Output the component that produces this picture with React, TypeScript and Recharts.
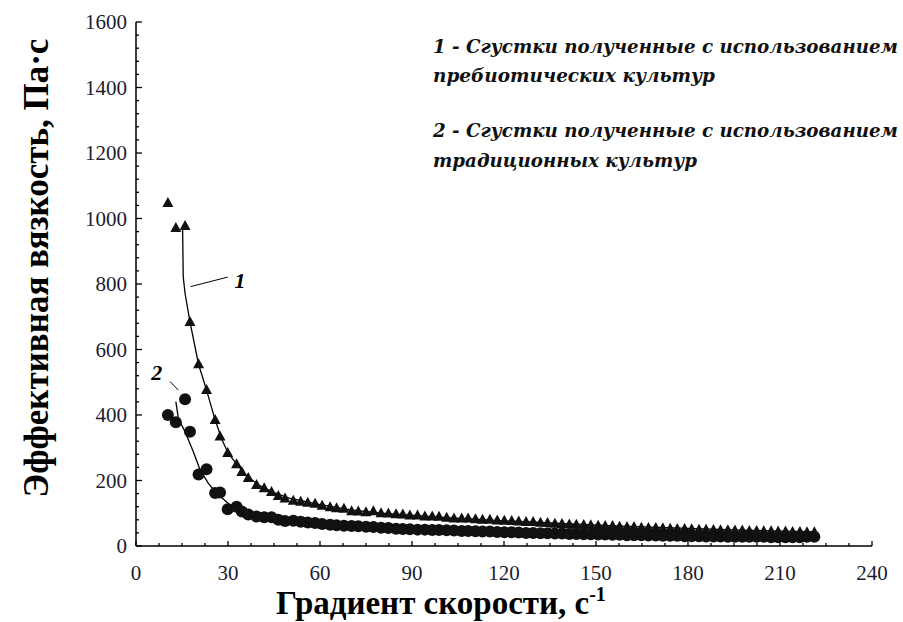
import React from "react";
import {
    ScatterChart,
    Scatter,
    XAxis,
    YAxis,
    ReferenceLine,
} from "recharts";

// shear rate, 1/s (same for both samples)
const shearRate = [
    10.4, 13, 16, 17.6, 20.4, 23, 25.8, 27.4, 29.9, 32.8,
    34.5, 36.6, 39.3, 41.8, 44.2, 46.4, 48.6, 51.3, 53.7, 56,
    58.4, 60.7, 63.3, 65.4, 67.8, 70.3, 72.5, 75, 77.4, 79.9,
    82.3, 84.8, 87, 89.3, 91.8, 94.2, 96.6, 98.8, 101.3, 103.7,
    106.2, 108.3, 110.7, 113, 115.4, 117.8, 120.1, 122.5, 124.8, 127.2,
    129.5, 131.9, 134.2, 136.6, 138.9, 141.3, 143.6, 146, 148.3, 150.7,
    153, 155.4, 157.7, 160.1, 162.4, 164.8, 167.1, 169.5, 171.8, 174.2,
    176.5, 178.9, 181.2, 183.6, 185.9, 188.3, 190.6, 193, 195.3, 197.7,
    200, 202.4, 204.7, 207.1, 209.4, 211.8, 214.1, 216.5, 218.8, 221.2,
];

// 1 - пребиотические культуры (треугольники)
const viscosityPrebiotic = [
    1047, 971, 977, 684, 555, 476, 385, 334, 284, 250,
    226, 208, 186, 176, 165, 153, 145, 138, 135, 132,
    129, 123, 118, 115, 114, 106, 105, 103, 106, 100,
    99, 97, 96, 93, 93, 90, 90, 89, 86, 84,
    84, 84, 82, 80, 80, 78, 77, 76, 75, 73,
    73, 71, 70, 68, 67, 66, 65, 64, 63, 62,
    61, 61, 59, 58, 58, 56, 55, 55, 54, 53,
    52, 52, 51, 50, 50, 49, 48, 48, 47, 47,
    46, 46, 45, 45, 44, 44, 43, 43, 42, 42,
];

// 2 - традиционные культуры (кружки)
const viscosityTraditional = [
    400, 378, 448, 349, 218, 234, 162, 163, 112, 120,
    105, 96, 90, 88, 88, 80, 76, 77, 74, 72,
    70, 67, 65, 63, 62, 61, 60, 59, 58, 56,
    55, 53, 52, 51, 50, 50, 49, 49, 48, 47,
    46, 46, 45, 44, 44, 43, 42, 42, 41, 40,
    40, 39, 39, 38, 38, 37, 37, 36, 36, 35,
    35, 34, 34, 33, 33, 33, 32, 32, 31, 31,
    31, 30, 30, 30, 29, 29, 29, 28, 28, 28,
    28, 28, 28, 27, 27, 27, 27, 27, 28, 28,
];

// approximating curves
const fit1X = [15.2, 15.4, 16, 17.6, 20.4, 23, 25.8, 28, 30, 33, 36, 40, 45, 50, 60, 70, 80, 100, 120, 140, 160, 180, 200, 222];
const fit1Y = [970, 822, 771, 684, 555, 476, 385, 325, 285, 248, 215, 186, 163, 146, 126, 110, 100, 87, 77, 68, 60, 54, 48, 43];
const fit2X = [13, 13.8, 16, 18.7, 20.9, 23.6, 26.3, 30.1, 34, 40, 50, 60, 80, 100, 120, 150, 180, 222];
const fit2Y = [441, 390, 349, 288, 232, 191, 161, 130, 105, 90, 76, 67, 56, 49, 43, 36, 31, 27];

// curve labels and their leader lines
const curveLabels = ["1", "2"];
const curveLabelX = [33.9, 6.8];
const curveLabelY = [812, 531];
const leaderFrom = [{ x: 17.8, y: 792 }, { x: 11.1, y: 502 }];
const leaderTo = [{ x: 29.9, y: 821 }, { x: 13.8, y: 476 }];

const xMajorTicks = [0, 30, 60, 90, 120, 150, 180, 210, 240];
const yMajorTicks = [0, 200, 400, 600, 800, 1000, 1200, 1400, 1600];

const legendLines = [
    "1 - Сгустки полученные с использованием",
    "пребиотических культур",
    "2 - Сгустки полученные с использованием",
    "традиционных культур",
];

const FONT = "Liberation Serif, serif";

// minor ticks: 4 parts per major step on X, 5 parts on Y
const subdivide = (major: number[], parts: number) => {
    const out: number[] = [];
    for (let i = 0; i < major.length - 1; i++) {
        const step = (major[i + 1] - major[i]) / parts;
        for (let k = 0; k < parts; k++) out.push(major[i] + step * k);
    }
    out.push(major[major.length - 1]);
    return out;
};
const xTicks = subdivide(xMajorTicks, 4);
const yTicks = subdivide(yMajorTicks, 5);

const prebioticData = shearRate.map((x, i) => ({ x, y: viscosityPrebiotic[i] }));
const traditionalData = shearRate.map((x, i) => ({ x, y: viscosityTraditional[i] }));
const fit1Data = fit1X.map((x, i) => ({ x, y: fit1Y[i] }));
const fit2Data = fit2X.map((x, i) => ({ x, y: fit2Y[i] }));
const labelData = curveLabels.map((label, i) => ({
    x: curveLabelX[i],
    y: curveLabelY[i],
    label,
}));

const XTick = (props: any) => {
    const { x, y, payload } = props;
    const major = xMajorTicks.includes(payload.value);
    return (
        <g>
            <line x1={x} x2={x} y1={y} y2={y - (major ? 5 : 3)} stroke="#000" strokeWidth={1.3} />
            {major && (
                <text x={x} y={y + 34} textAnchor="middle" style={{ fontFamily: FONT, fontSize: 21 }} fill="#1c1c30">
                    {payload.value}
                </text>
            )}
        </g>
    );
};

const YTick = (props: any) => {
    const { x, y, payload } = props;
    const major = yMajorTicks.includes(payload.value);
    return (
        <g>
            <line x1={x} x2={x + (major ? 6 : 3)} y1={y} y2={y} stroke="#000" strokeWidth={1.3} />
            {major && (
                <text x={x - 9} y={y} dy="0.35em" textAnchor="end" style={{ fontFamily: FONT, fontSize: 21 }} fill="#1c1c30">
                    {payload.value}
                </text>
            )}
        </g>
    );
};

const Triangle = (props: any) => {
    const { cx, cy } = props;
    return (
        <polygon
            points={`${cx},${cy - 6} ${cx + 5.5},${cy + 4} ${cx - 5.5},${cy + 4}`}
            fill="#111"
        />
    );
};

const Dot = (props: any) => {
    const { cx, cy } = props;
    return <circle cx={cx} cy={cy} r={6} fill="#111" />;
};

const NoMarker = () => <g />;

const CurveLabel = (props: any) => {
    const { cx, cy, payload } = props;
    return (
        <text
            x={cx}
            y={cy}
            dy="0.35em"
            textAnchor="middle"
            style={{ fontFamily: FONT, fontSize: 22, fontStyle: "italic", fontWeight: 700 }}
            fill="#000"
        >
            {payload.label}
        </text>
    );
};

const App = () => {
    return (
        <div style={{ position: "absolute", left: 0, top: 0, width: 903, height: 622, background: "#fff" }}>
            <ScatterChart width={903} height={622} margin={{ top: 22, right: 31, bottom: 0, left: 0 }}>
                <XAxis
                    type="number"
                    dataKey="x"
                    domain={[0, 240]}
                    ticks={xTicks}
                    interval={0}
                    tickSize={0}
                    tickMargin={0}
                    tickLine={false}
                    axisLine={{ stroke: "#000", strokeWidth: 1.5 }}
                    tick={<XTick />}
                    height={76}
                    allowDataOverflow
                />
                <YAxis
                    type="number"
                    dataKey="y"
                    domain={[0, 1600]}
                    ticks={yTicks}
                    interval={0}
                    tickSize={0}
                    tickMargin={0}
                    tickLine={false}
                    axisLine={{ stroke: "#000", strokeWidth: 1.5 }}
                    tick={<YTick />}
                    width={136}
                    allowDataOverflow
                />

                {leaderFrom.map((p, i) => (
                    <ReferenceLine
                        key={`leader-${i}`}
                        segment={[p, leaderTo[i]]}
                        stroke="#000"
                        strokeWidth={1}
                    />
                ))}

                <Scatter
                    data={fit1Data}
                    line={{ stroke: "#000", strokeWidth: 1.3 }}
                    lineType="joint"
                    shape={<NoMarker />}
                    isAnimationActive={false}
                />
                <Scatter
                    data={fit2Data}
                    line={{ stroke: "#000", strokeWidth: 1.3 }}
                    lineType="joint"
                    shape={<NoMarker />}
                    isAnimationActive={false}
                />
                <Scatter data={traditionalData} shape={<Dot />} isAnimationActive={false} />
                <Scatter data={prebioticData} shape={<Triangle />} isAnimationActive={false} />
                <Scatter data={labelData} shape={<CurveLabel />} isAnimationActive={false} />
            </ScatterChart>

            <svg
                width={903}
                height={622}
                style={{ position: "absolute", left: 0, top: 0, pointerEvents: "none" }}
            >
                <text
                    transform="translate(48, 268) rotate(-90)"
                    textAnchor="middle"
                    style={{ fontFamily: FONT, fontSize: 35, fontWeight: 700 }}
                    fill="#000"
                >
                    Эффективная вязкость, Па·с
                </text>
                <text x={276} y={614} style={{ fontFamily: FONT, fontSize: 33, fontWeight: 700 }} fill="#000">
                    Градиент скорости, с
                    <tspan style={{ fontSize: 20 }} dy={-13}>-1</tspan>
                </text>
                <g style={{ fontFamily: "DejaVu Serif, serif", fontSize: 18, fontWeight: 700, fontStyle: "italic" }} fill="#111">
                    <text x={433} y={53} textLength={465} lengthAdjust="spacingAndGlyphs">{legendLines[0]}</text>
                    <text x={433} y={82} textLength={282} lengthAdjust="spacingAndGlyphs">{legendLines[1]}</text>
                    <text x={433} y={137} textLength={465} lengthAdjust="spacingAndGlyphs">{legendLines[2]}</text>
                    <text x={433} y={167} textLength={264} lengthAdjust="spacingAndGlyphs">{legendLines[3]}</text>
                </g>
            </svg>
        </div>
    );
};

export default App;
